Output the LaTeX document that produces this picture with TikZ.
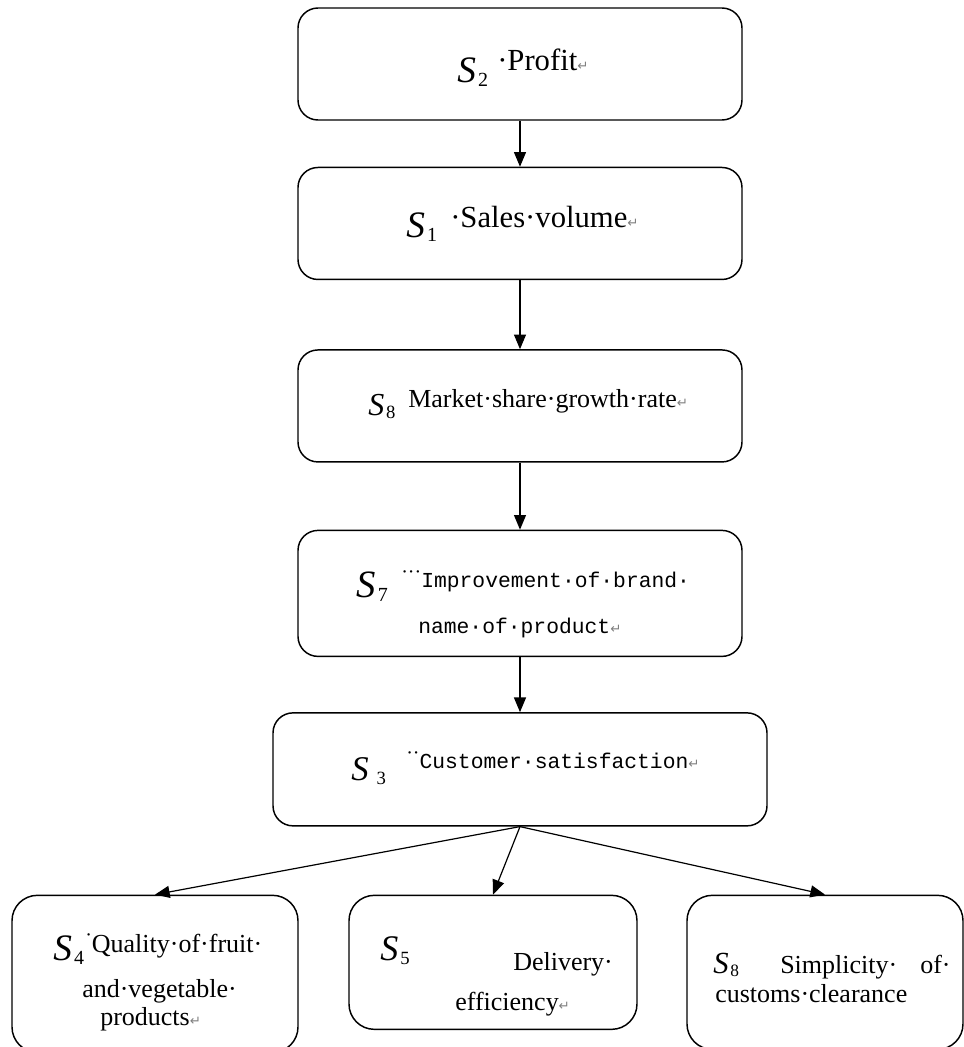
\documentclass[tikz,border=0pt]{standalone}
\usepackage{fontspec}
\setmainfont{Liberation Serif}
\setmonofont{Liberation Mono}
\newfontfamily\arrowfont{DejaVu Sans}
\usetikzlibrary{positioning,arrows.meta}

\newcommand{\Sn}[4][.06em]{{\fontsize{#2}{#2}\selectfont\itshape S\kern#1\raisebox{-.12em}{\fontsize{#3}{#3}\selectfont\upshape #4}}}
\newcommand{\pmark}{{\arrowfont\fontsize{10}{10}\selectfont\textcolor{gray}{↵}}}
\newcommand{\hdot}[1]{\raisebox{.42em}{\rmfamily\fontsize{15}{15}\selectfont #1}}

\begin{document}
\begin{tikzpicture}[x=0.75pt, y=-0.75pt, >={Triangle[length=11pt,width=9pt]},
    box/.style={draw, line width=1.1pt, rounded corners=15pt, minimum width=333pt, minimum height=84pt, inner sep=0pt},
    leaf/.style={box, rounded corners=19pt},
    lbl/.style={anchor=base west, inner sep=0pt},
    big/.style={lbl, font=\fontsize{23}{27}\selectfont},
    mid/.style={lbl, font=\fontsize{19.5}{23}\selectfont},
    code/.style={lbl, font=\ttfamily\fontsize{16}{18}\selectfont}]
    \useasboundingbox (0,0) rectangle (964,1047);

    \node[box] (profit) at (520,64) {};
    \node[box, below=34.5pt of profit] (sales) {};
    \node[box, below=51.75pt of sales] (market) {};
    \node[box, below=50.25pt of market, minimum height=94.5pt] (brand) {};
    \node[box, below=41.25pt of brand, minimum width=370.5pt, minimum height=84.75pt] (satisf) {};
    \node[leaf, below=51pt of satisf, xshift=-273.75pt, minimum width=214.5pt, minimum height=117.75pt] (quality) {};
    \node[leaf, below=51pt of satisf, xshift=-20.25pt, minimum width=216pt, minimum height=100.5pt] (delivery) {};
    \node[leaf, below=51pt of satisf, xshift=228.75pt, minimum width=207pt, minimum height=115.5pt] (customs) {};

    \node[lbl] (profit-s) at (457,82) {\Sn{28}{15}{2}};
    \node[big] (profit-t) at (497,70) {·Profit\pmark};

    \node[lbl] (sales-s) at (406,237) {\Sn{28}{15}{1}};
    \node[big] (sales-t) at (450,227) {·Sales·volume\pmark};

    \node[lbl] (market-s) at (368,415) {\Sn{24}{14}{8}};
    \node[mid] (market-t) at (408,407) {Market·share·growth·rate\pmark};

    \node[lbl] (brand-s) at (356,597) {\Sn{29}{15}{7}};
    \node[code] (brand-t) at (401,587) {\hdot{···}Improvement·of·brand·};
    \node[code] (brand-u) at (418,633) {name·of·product\pmark};

    \node[lbl] (satisf-s) at (351,780) {\Sn[6pt]{26}{14}{3}};
    \node[code] (satisf-t) at (406,768) {\hdot{··}Customer·satisfaction\pmark};

    \node[lbl] (quality-s) at (53,960) {\Sn{28}{15}{4}};
    \node[mid] (quality-t) at (85,952) {\hdot{·}Quality·of·fruit·};
    \node[mid] (quality-u) at (82,997) {and·vegetable·};
    \node[mid] (quality-v) at (100,1025) {products\pmark};

    \node[lbl] (delivery-s) at (380,960) {\Sn{27}{14}{5}};
    \node[mid] (delivery-t) at (513,970) {Delivery·};
    \node[mid] (delivery-u) at (455,1010) {efficiency\pmark};

    \node[lbl] (customs-s) at (713,973) {\Sn{23}{13}{8}};
    \node[mid] (customs-t) at (780,973) {Simplicity·};
    \node[mid] (customs-o) at (920,973) {of·};
    \node[mid] (customs-u) at (715,1002) {customs·clearance};

    \draw[->, line width=0.9pt] (profit) -- (sales);
    \draw[->, line width=0.9pt] (sales) -- (market);
    \draw[->, line width=0.9pt] (market) -- (brand);
    \draw[->, line width=0.9pt] (brand) -- (satisf);
    \draw[->, line width=0.9pt] (satisf.south) -- (quality.north);
    \draw[->, line width=0.9pt] (satisf.south) -- (delivery.north);
    \draw[->, line width=0.9pt] (satisf.south) -- (customs.north);
\end{tikzpicture}
\end{document}
